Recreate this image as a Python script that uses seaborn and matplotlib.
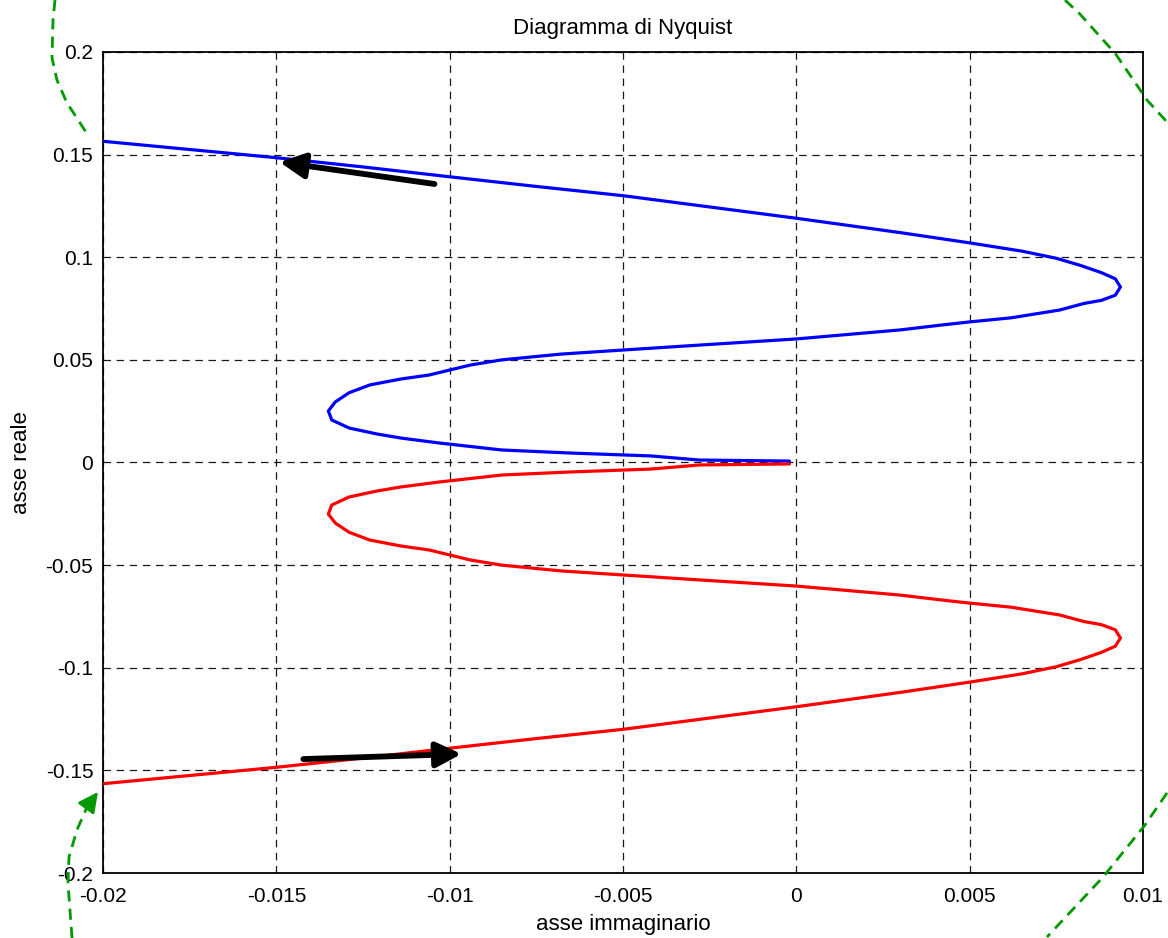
import numpy as np
import pandas as pd
import matplotlib
matplotlib.use("Agg")
import matplotlib.pyplot as plt
import seaborn as sns

# ---------------- data ----------------
blue_x = [-0.0002, -0.0028, -0.0042, -0.0065, -0.0085, -0.0103, -0.0114, -0.0121,
          -0.0129, -0.0134, -0.0135, -0.0133, -0.0129, -0.0123, -0.0114, -0.0106,
          -0.0094, -0.0085, -0.0068, -0.0050, -0.0028, 0.0000, 0.0030, 0.0042,
          0.0050, 0.0062, 0.0076, 0.0083, 0.0088, 0.0092, 0.00935, 0.0092, 0.0088,
          0.0082, 0.0075, 0.0065, 0.0050, 0.0030, 0.0015, 0.0000, -0.0025, -0.0050,
          -0.0075, -0.0100, -0.0125, -0.0150, -0.0175, -0.0200]
blue_y = [0.0007, 0.0012, 0.0032, 0.0046, 0.0061, 0.0095, 0.0119, 0.0139,
          0.0168, 0.0207, 0.0251, 0.0295, 0.0340, 0.0378, 0.0407, 0.0426,
          0.0475, 0.0500, 0.0528, 0.0548, 0.0572, 0.0602, 0.0646, 0.0670,
          0.0685, 0.0705, 0.0743, 0.0775, 0.0790, 0.0815, 0.0855, 0.0895, 0.0925,
          0.0960, 0.0995, 0.1030, 0.1070, 0.1120, 0.1155, 0.1190, 0.1245, 0.1300,
          0.1345, 0.1392, 0.1440, 0.1485, 0.1525, 0.1565]

red_x = [-0.0002, -0.0028, -0.0042, -0.0065, -0.0085, -0.0103, -0.0114, -0.0121,
         -0.0129, -0.0134, -0.0135, -0.0133, -0.0129, -0.0123, -0.0114, -0.0106,
         -0.0094, -0.0085, -0.0068, -0.0050, -0.0028, 0.0000, 0.0030, 0.0042,
         0.0050, 0.0062, 0.0076, 0.0083, 0.0088, 0.0092, 0.00935, 0.0092, 0.0088,
         0.0082, 0.0075, 0.0065, 0.0050, 0.0030, 0.0015, 0.0000, -0.0025, -0.0050,
         -0.0075, -0.0100, -0.0125, -0.0150, -0.0175, -0.0200]
red_y = [-0.0007, -0.0012, -0.0032, -0.0046, -0.0061, -0.0095, -0.0119, -0.0139,
         -0.0168, -0.0207, -0.0251, -0.0295, -0.0340, -0.0378, -0.0407, -0.0426,
         -0.0475, -0.0500, -0.0528, -0.0548, -0.0572, -0.0602, -0.0646, -0.0670,
         -0.0685, -0.0705, -0.0743, -0.0775, -0.0790, -0.0815, -0.0855, -0.0895, -0.0925,
         -0.0960, -0.0995, -0.1030, -0.1070, -0.1120, -0.1155, -0.1190, -0.1245, -0.1300,
         -0.1345, -0.1392, -0.1440, -0.1485, -0.1525, -0.1565]

# direction arrows (tail, tip)
arrow_up_tail = (-0.01044, 0.1357)
arrow_up_tip = (-0.01491, 0.1464)
arrow_dn_tail = (-0.01422, -0.1445)
arrow_dn_tip = (-0.00966, -0.1420)

# green dashed arcs (contour at infinity), drawn outside the axes
arc_tl_x = [-0.021385, -0.021442, -0.021471, -0.021327, -0.021038, -0.02075, -0.020404]
arc_tl_y = [0.2253, 0.2156, 0.1971, 0.1863, 0.1751, 0.1678, 0.1586]
arc_tr_x = [0.00775, 0.00818, 0.008846, 0.009192, 0.010115, 0.010692]
arc_tr_y = [0.2253, 0.2185, 0.2059, 0.1995, 0.1766, 0.1659]
arc_bl_x = [-0.020894, -0.02101, -0.02098, -0.02075, -0.02046, -0.020144]
arc_bl_y = [-0.2317, -0.2049, -0.1922, -0.1790, -0.1678, -0.1605]
arc_br_x = [0.010692, 0.010058, 0.008846, 0.00723]
arc_br_y = [-0.1610, -0.1766, -0.2020, -0.2312]

x_ticks = [-0.02, -0.015, -0.01, -0.005, 0, 0.005, 0.01]
x_tick_labels = ["-0.02", "-0.015", "-0.01", "-0.005", "0", "0.005", "0.01"]
y_ticks = [-0.2, -0.15, -0.1, -0.05, 0, 0.05, 0.1, 0.15, 0.2]
y_tick_labels = ["-0.2", "-0.15", "-0.1", "-0.05", "0", "0.05", "0.1", "0.15", "0.2"]

title = "Diagramma di Nyquist"
x_label = "asse immaginario"
y_label = "asse reale"

# ---------------- plot ----------------
sns.set_theme(style="white")
plt.rcParams["font.family"] = ["Liberation Sans", "DejaVu Sans"]

fig = plt.figure(figsize=(11.68, 9.38), dpi=100)
ax = fig.add_axes([103 / 1168, 1 - 873 / 938, 1040 / 1168, 821 / 938])

df_blue = pd.DataFrame({"x": blue_x, "y": blue_y})
df_red = pd.DataFrame({"x": red_x, "y": red_y})
sns.lineplot(data=df_blue, x="x", y="y", sort=False, estimator=None,
             color="#0000FF", lw=2.3, ax=ax, zorder=3)
sns.lineplot(data=df_red, x="x", y="y", sort=False, estimator=None,
             color="#FF0000", lw=2.3, ax=ax, zorder=3)

ax.set_xlim(-0.02, 0.01)
ax.set_ylim(-0.2, 0.2)
ax.set_xticks(x_ticks)
ax.set_xticklabels(x_tick_labels)
ax.set_yticks(y_ticks)
ax.set_yticklabels(y_tick_labels)

ax.grid(True, color="black", linestyle=(0, (6, 4.5)), lw=0.9, alpha=0.9)
for s in ax.spines.values():
    s.set_color("black")
    s.set_linewidth(1.3)
ax.tick_params(axis="both", direction="in", length=5, width=1, colors="black",
               labelsize=15, pad=7)
ax.tick_params(axis="x", pad=10)

ax.set_title(title, fontsize=16, pad=13, color="black")
ax.set_xlabel(x_label, fontsize=16, labelpad=6, color="black")
ax.set_ylabel(y_label, fontsize=16, labelpad=10, color="black")

# black direction arrows
for tail, tip in [(arrow_up_tail, arrow_up_tip), (arrow_dn_tail, arrow_dn_tip)]:
    ax.annotate("", xy=tip, xytext=tail,
                arrowprops=dict(arrowstyle="-|>,head_length=0.8,head_width=0.4",
                                lw=4.2, color="black", mutation_scale=19,
                                shrinkA=0, shrinkB=0), zorder=5)

# green dashed arcs outside the axes
green = "#009A00"
for gx, gy in [(arc_tl_x, arc_tl_y), (arc_tr_x, arc_tr_y), (arc_bl_x[:-1], arc_bl_y[:-1]),
               (arc_br_x, arc_br_y)]:
    ax.plot(gx, gy, color=green, lw=2.0, linestyle=(0, (4, 2.6)), clip_on=False, zorder=4)
ax.annotate("", xy=(arc_bl_x[-1], arc_bl_y[-1]), xytext=(arc_bl_x[-2], arc_bl_y[-2]),
            arrowprops=dict(arrowstyle="-|>,head_length=0.8,head_width=0.4",
                            lw=2.0, color=green, mutation_scale=15,
                            shrinkA=0, shrinkB=0), annotation_clip=False, zorder=4)

fig.savefig("out.png", dpi=100)
